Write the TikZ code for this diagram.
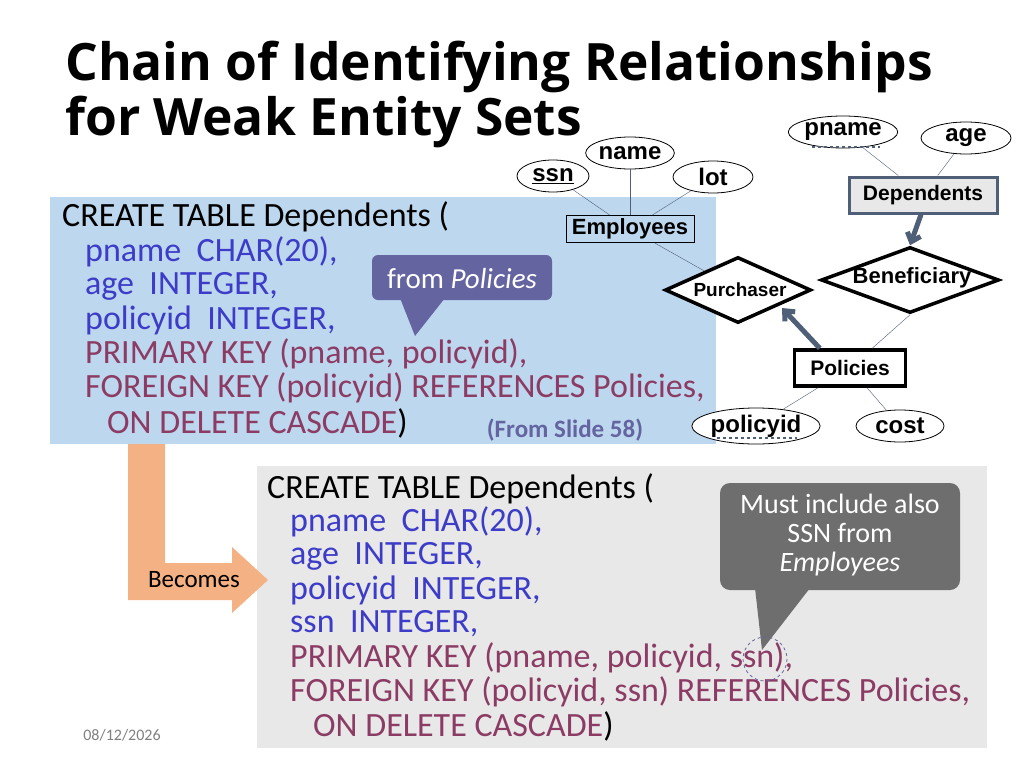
\documentclass[tikz,border=0pt]{standalone}
\usepackage{fontspec}
\setmainfont{Carlito}
\newfontfamily\ttl{Open Sans}
\newfontfamily\ars{Liberation Sans}
\usetikzlibrary{shapes.geometric,arrows.meta}
\definecolor{cblue}{RGB}{60,60,200}
\definecolor{cmar}{RGB}{140,60,100}
\definecolor{bgblue}{RGB}{189,215,238}
\definecolor{bggray}{RGB}{232,232,232}
\definecolor{cpur}{RGB}{100,100,160}
\definecolor{cgr}{RGB}{110,110,110}
\definecolor{corange}{RGB}{244,177,131}
\definecolor{arr}{RGB}{80,95,120}
\begin{document}
\begin{tikzpicture}[x=1pt,y=-1pt,
  code/.style={anchor=west,font=\fontsize{34}{36}\selectfont,inner sep=0pt},
  attr/.style={ellipse,draw,fill=white,thick,font=\ars\bfseries\fontsize{24}{24}\selectfont,inner sep=0pt},
  ln/.style={draw=arr,thin},
  dia/.style={diamond,draw,line width=3.5pt,fill=white,aspect=2.2,inner sep=0pt},
  bigarr/.style={draw=arr,line width=5pt,-{Straight Barb[length=8pt,width=14pt]}}]
\useasboundingbox (0,0) rectangle (1024,768);
\fill[white] (0,0) rectangle (1024,768);
\node[anchor=base west,inner sep=0pt,font=\ttl\bfseries\fontsize{51.5}{54}\selectfont] (t1) at (65,80) {Chain of Identifying Relationships};
\node[anchor=base west,inner sep=0pt,font=\ttl\bfseries\fontsize{51.5}{54}\selectfont] (t2) at (65,135) {for Weak Entity Sets};
% blue box
\fill[bgblue] (50,197) rectangle (716,444);
\node[code] (a1) at (62,217) {CREATE TABLE Dependents (};
\node[code,text=cblue] (a2) at (85,252) {pname\ \ CHAR(20),};
\node[code,text=cblue] (a3) at (85,286) {age\ \ INTEGER,};
\node[code,text=cblue] (a4) at (85,320) {policyid\ \ INTEGER,};
\node[code,text=cmar] (a5) at (85,354) {PRIMARY KEY (pname, policyid),};
\node[code,text=cmar] (a6) at (85,388) {FOREIGN KEY (policyid) REFERENCES Policies,};
\node[code,text=cmar] (a7) at (107,423) {ON DELETE CASCADE\textcolor{black}{)}};
\node[font=\bfseries\fontsize{25}{26}\selectfont,text=cpur] (fs) at (565,430) {(From Slide 58)};
% callout 1
\fill[cpur,rounded corners=6pt] (372,255) rectangle (552,300);
\fill[cpur] (400,298) -- (415,336) -- (445,298) -- cycle;
\node[text=white,font=\fontsize{29}{30}\selectfont] (c1) at (462,279) {from \textit{Policies}};
% gray box
\fill[bggray] (257,466) rectangle (987,748);
\node[code] (b1) at (267,489) {CREATE TABLE Dependents (};
\node[code,text=cblue] (b2) at (290,522) {pname\ \ CHAR(20),};
\node[code,text=cblue] (b3) at (290,556) {age\ \ INTEGER,};
\node[code,text=cblue] (b4) at (290,590) {policyid\ \ INTEGER,};
\node[code,text=cblue] (b5) at (290,624) {ssn\ \ INTEGER,};
\node[code,text=cmar] (b6) at (290,658) {PRIMARY KEY (pname, policyid, ssn),};
\node[code,text=cmar] (b7) at (290,692) {FOREIGN KEY (policyid, ssn) REFERENCES Policies,};
\node[code,text=cmar] (b8) at (313,726) {ON DELETE CASCADE\textcolor{black}{)}};
% callout 2
\fill[cgr,rounded corners=10pt] (720,483) rectangle (960,590);
\fill[cgr] (755,588) -- (762,650) -- (810,588) -- cycle;
\node[text=white,align=center,font=\fontsize{28}{29}\selectfont] (c2) at (840,535) {Must include also\\SSN from\\\textit{Employees}};
\draw[cpur,dashed,thick] (765,659) circle (22);
% orange arrow
\fill[corange] (128,444) -- (165,444) -- (165,563) -- (232,563) -- (232,547) -- (268,580) -- (232,613) -- (232,600) -- (128,600) -- cycle;
\node[font=\fontsize{25}{26}\selectfont] (bec) at (194,580) {Becomes};
\node[text=gray,font=\fontsize{16}{17}\selectfont] (dt) at (122,735) {08/12/2026};
% ER diagram
\node[attr,minimum width=72pt,minimum height=32pt] (ssn) at (553,176) {\underline{ssn}};
\node[attr,minimum width=86pt,minimum height=32pt] (name) at (630,153) {name};
\node[attr,minimum width=80pt,minimum height=32pt] (lot) at (713,177) {lot};
\node[draw,thick,fill=bgblue,minimum width=128pt,minimum height=27pt,inner sep=0pt,font=\ars\bfseries\fontsize{22}{22}\selectfont] (emp) at (630,229) {Employees};
\node[attr,minimum width=104pt,minimum height=32pt] (pname) at (843,132) {pname};
\draw[arr,dashed,line width=1.5pt] (812,147) -- (880,147);
\node[attr,minimum width=90pt,minimum height=32pt] (age) at (966,138) {age};
\node[draw=arr,line width=3pt,fill=bggray,minimum width=148pt,minimum height=36pt,inner sep=0pt,font=\ars\bfseries\fontsize{21}{22}\selectfont] (dep) at (923,195) {Dependents};
\node[dia,minimum width=178pt,minimum height=66pt] (ben) at (910,280) {};
\node[font=\ars\bfseries\fontsize{22}{22}\selectfont] (benl) at (912,278) {Beneficiary};
\node[dia,minimum width=146pt,minimum height=66pt] (pur) at (738,290) {};
\node[font=\ars\bfseries\fontsize{19}{20}\selectfont] (purl) at (740,290) {Purchaser};
\node[draw,line width=3.5pt,fill=white,minimum width=111pt,minimum height=36pt,inner sep=0pt,font=\ars\bfseries\fontsize{21}{22}\selectfont] (pol) at (850,368) {Policies};
\node[attr,minimum width=126pt,minimum height=36pt] (pid) at (756,426) {policyid};
\draw[arr,dashed,line width=1.5pt] (717,438) -- (797,438);
\node[attr,minimum width=88pt,minimum height=32pt] (cost) at (900,426) {cost};
\draw[ln] (ssn) -- (emp);
\draw[ln] (name) -- (emp);
\draw[ln] (lot) -- (emp);
\draw[ln] (emp) -- (pur);
\draw[ln] (pname) -- (dep);
\draw[ln] (age) -- (dep);
\draw[ln] (ben.south) -- (pol);
\draw[ln] (pol) -- (pid);
\draw[ln] (pol) -- (cost);
\draw[bigarr] (dep.south) ++(-2,0) -- (ben.north);
\draw[bigarr] (pol.north west) ++(27,0) -- (782,308);
\end{tikzpicture}
\end{document}
